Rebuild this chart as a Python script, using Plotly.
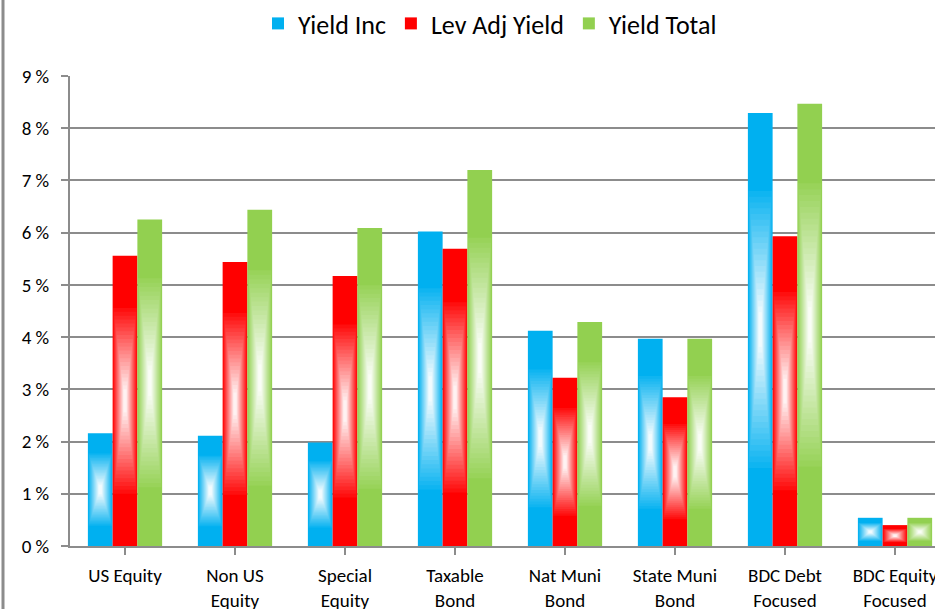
import plotly.graph_objects as go

categories = ["US Equity", "Non US<br>Equity", "Special<br>Equity", "Taxable<br>Bond",
              "Nat Muni<br>Bond", "State Muni<br>Bond", "BDC Debt<br>Focused", "BDC Equity<br>Focused"]
yield_inc = [2.16, 2.11, 1.98, 6.02, 4.12, 3.97, 8.29, 0.54]
lev_adj_yield = [5.56, 5.44, 5.17, 5.69, 3.22, 2.85, 5.93, 0.40]
yield_total = [6.25, 6.44, 6.09, 7.20, 4.29, 3.97, 8.47, 0.54]
y_ticks = [0, 1, 2, 3, 4, 5, 6, 7, 8, 9]
y_tick_labels = [f"{v} %" for v in y_ticks]

FONT = "Carlito, Calibri, Lato, sans-serif"
series = [("Yield Inc", yield_inc, (0, 176, 240)),
          ("Lev Adj Yield", lev_adj_yield, (255, 0, 0)),
          ("Yield Total", yield_total, (146, 208, 80))]

def blend(c, t):
    r, g, b = (round(v + (255 - v) * t) for v in c)
    return f"rgb({r},{g},{b})"

X = list(range(len(categories)))
W = 0.225          # bar width in category units
START = -0.3375    # left edge of the group relative to category centre
N_LAYERS = 22

fig = go.Figure()
for i, (name, vals, col) in enumerate(series):
    off = START + i * W
    fig.add_trace(go.Bar(x=X, y=vals, name=name, width=W, offset=off,
                         marker=dict(color=blend(col, 0), line=dict(width=0))))
    # soft light centre to mimic the gradient fill
    for k in range(N_LAYERS):
        s = k / (N_LAYERS - 1)
        h = 0.32 * (1 - s) + 0.04 * s
        f = 0.95 * (1 - s) + 0.12 * s
        t = 0.06 + 0.89 * s
        fig.add_trace(go.Bar(x=X, y=[2 * v * h for v in vals],
                             base=[v / 2 - v * h for v in vals],
                             width=W * f, offset=off + W * (1 - f) / 2,
                             marker=dict(color=blend(col, t), line=dict(width=0)),
                             showlegend=False, hoverinfo="skip"))

fig.update_layout(
    width=950, height=609,
    margin=dict(l=70, r=0, t=76, b=63, autoexpand=False),
    paper_bgcolor="white", plot_bgcolor="white",
    barmode="overlay",
    font=dict(family=FONT, size=19, color="black"),
    legend=dict(orientation="h", xref="container", yref="container",
                x=490 / 950, xanchor="center", y=1.0, yanchor="top",
                font=dict(size=26), traceorder="normal"),
    xaxis=dict(tickmode="array", tickvals=X, ticktext=categories,
               range=[-0.5, 7.5], showgrid=False, showline=True, linecolor="#8c8c8c",
               linewidth=2, ticks="outside", ticklen=7, tickcolor="#8c8c8c", tickwidth=2,
               tickson="boundaries", tickfont=dict(size=19), ticklabelstandoff=4,
               automargin=False),
    yaxis=dict(range=[0, 9], tickvals=y_ticks, ticktext=y_tick_labels,
               showgrid=True, gridcolor="#8c8c8c", gridwidth=2, zeroline=False,
               showline=True, linecolor="#8c8c8c", linewidth=2,
               ticks="outside", ticklen=7, tickcolor="#8c8c8c", tickwidth=2,
               ticklabelstandoff=8, tickfont=dict(size=19), automargin=False),
    shapes=[dict(type="line", xref="paper", yref="paper", x0=-67/880, x1=-67/880,
                 y0=-63/470, y1=76/470 + 1, line=dict(color="#8c8c8c", width=3))],
)

fig.write_html("out.html", config={"displayModeBar": False},
               post_script="document.body.style.margin='0px';document.body.style.overflow='hidden';"
                           "document.documentElement.style.overflow='hidden';")
